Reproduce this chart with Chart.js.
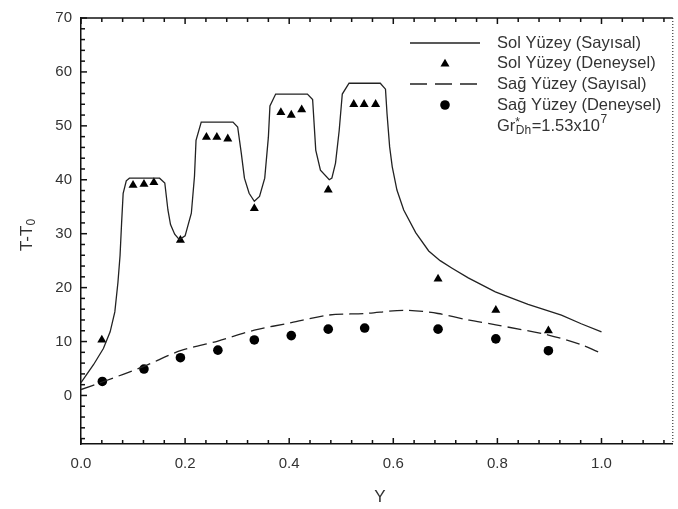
<!DOCTYPE html>
<html>
<head>
<meta charset="utf-8">
<script src="https://cdn.jsdelivr.net/npm/chart.js@4/dist/chart.umd.min.js"></script>
<style>
  html, body { margin: 0; padding: 0; background: #fff; }
  #wrap { width: 678px; height: 509px; }
</style>
</head>
<body>
<div id="wrap"><canvas id="chart" width="678" height="509"></canvas></div>
<script>
// Sol Yüzey (Sayısal) - solid line
const solX = [0, 0.024, 0.043, 0.056, 0.065, 0.071, 0.075, 0.078, 0.081, 0.087, 0.093, 0.151, 0.161, 0.167, 0.172, 0.180, 0.189,
  0.200, 0.212, 0.218, 0.221, 0.231, 0.292, 0.301, 0.308, 0.314, 0.323, 0.333, 0.343, 0.353, 0.360, 0.363, 0.374,
  0.435, 0.445, 0.451, 0.460, 0.477, 0.482, 0.489, 0.496, 0.502, 0.515, 0.575, 0.585, 0.588, 0.593, 0.598, 0.607,
  0.620, 0.643, 0.668, 0.690, 0.713, 0.744, 0.796, 0.859, 0.923, 0.961, 1.0];
const solY = [2.4, 5.7, 8.7, 11.8, 15.5, 21.0, 25.9, 32.0, 37.5, 39.8, 40.3, 40.3, 39.4, 34.4, 31.7, 29.9, 28.9,
  29.6, 33.8, 40.6, 47.3, 50.7, 50.7, 49.8, 44.9, 40.3, 37.5, 36.0, 36.9, 40.3, 47.9, 53.7, 55.9,
  55.9, 54.9, 45.5, 41.8, 40.0, 40.3, 43.1, 49.1, 55.9, 57.9, 57.9, 56.8, 52.2, 46.1, 42.4, 38.1,
  34.4, 30.2, 26.8, 25.0, 23.6, 21.8, 19.2, 16.9, 14.9, 13.3, 11.8];

// Sol Yüzey (Deneysel) - triangles
const solExpX = [0.040, 0.100, 0.121, 0.140, 0.191, 0.241, 0.261, 0.282, 0.333, 0.384, 0.404, 0.424, 0.475,
  0.524, 0.544, 0.566, 0.686, 0.797, 0.898];
const solExpY = [10.3, 39.0, 39.2, 39.5, 28.8, 47.9, 47.9, 47.6, 34.7, 52.5, 52.0, 53.0, 38.1,
  54.0, 54.0, 54.0, 21.6, 15.8, 12.0];

// Sağ Yüzey (Sayısal) - dashed line
const sagX = [0, 0.041, 0.121, 0.191, 0.263, 0.333, 0.404, 0.475, 0.545, 0.623, 0.686, 0.744, 0.797, 0.898, 0.961, 1.0];
const sagY = [1.1, 2.5, 5.4, 8.3, 10.1, 12.1, 13.5, 14.9, 15.2, 15.8, 15.2, 14.0, 13.1, 11.2, 9.4, 7.8];

// Sağ Yüzey (Deneysel) - circles
const sagExpX = [0.041, 0.121, 0.191, 0.263, 0.333, 0.404, 0.475, 0.545, 0.686, 0.797, 0.898];
const sagExpY = [2.6, 4.9, 7.0, 8.4, 10.3, 11.1, 12.3, 12.5, 12.3, 10.5, 8.3];

const legendLabels = ['Sol Yüzey (Sayısal)', 'Sol Yüzey (Deneysel)', 'Sağ Yüzey (Sayısal)', 'Sağ Yüzey (Deneysel)'];

const xMin = 0, xMax = 1.137, xStep = 0.04, xMajor = 0.2;
const yMin = -9, yMax = 70, yStep = 2, yMajor = 10;

const FONT = '"Liberation Sans", Arial, sans-serif';
const INK = '#111';

function pts(xs, ys) {
    return xs.map((x, i) => ({ x: x, y: ys[i] }));
}

function isMajor(v, m) {
    return Math.abs(v / m - Math.round(v / m)) < 1e-6;
}

// ticks inside the frame, frame on top/right, axis titles and legend
const decorPlugin = {
    id: 'decor',
    afterDraw(chart) {
        const ctx = chart.ctx;
        const a = chart.chartArea;
        const xs = chart.scales.x, ys = chart.scales.y;
        ctx.save();
        ctx.strokeStyle = INK;
        ctx.lineWidth = 1.5;

        // top border
        ctx.beginPath();
        ctx.moveTo(a.left, a.top);
        ctx.lineTo(a.right, a.top);
        ctx.stroke();

        // right border (dotted in the original)
        ctx.setLineDash([1, 2]);
        ctx.lineWidth = 1;
        ctx.beginPath();
        ctx.moveTo(a.right, a.top);
        ctx.lineTo(a.right, a.bottom);
        ctx.stroke();
        ctx.setLineDash([]);
        ctx.lineWidth = 1.5;

        // x ticks bottom + top
        xs.ticks.forEach(t => {
            const px = xs.getPixelForValue(t.value);
            const len = isMajor(t.value, xMajor) ? 6 : 4;
            ctx.beginPath();
            ctx.moveTo(px, a.bottom);
            ctx.lineTo(px, a.bottom - len);
            ctx.moveTo(px, a.top);
            ctx.lineTo(px, a.top + len);
            ctx.stroke();
        });
        // y ticks left
        ys.ticks.forEach(t => {
            const py = ys.getPixelForValue(t.value);
            const len = isMajor(t.value, yMajor) ? 6 : 4;
            ctx.beginPath();
            ctx.moveTo(a.left, py);
            ctx.lineTo(a.left + len, py);
            ctx.stroke();
        });

        // axis titles
        ctx.fillStyle = '#333';
        ctx.font = '17px ' + FONT;
        ctx.textAlign = 'center';
        ctx.textBaseline = 'middle';
        ctx.fillText('Y', 380, 497);

        ctx.save();
        ctx.translate(27, 235);
        ctx.rotate(-Math.PI / 2);
        ctx.textAlign = 'left';
        ctx.font = '17px ' + FONT;
        const w1 = ctx.measureText('T-T').width;
        ctx.font = '12px ' + FONT;
        const w2 = ctx.measureText('0').width;
        let sx = -(w1 + w2) / 2;
        ctx.font = '17px ' + FONT;
        ctx.fillText('T-T', sx, 0);
        ctx.font = '12px ' + FONT;
        ctx.fillText('0', sx + w1, 5);
        ctx.restore();

        // legend
        const rowY = [43, 63, 84, 105];
        const lx0 = 410, lx1 = 480, mx = 445, tx = 497;
        ctx.strokeStyle = '#222';
        ctx.fillStyle = '#000';
        ctx.lineWidth = 1.3;
        ctx.beginPath();
        ctx.moveTo(lx0, rowY[0]); ctx.lineTo(lx1, rowY[0]);
        ctx.stroke();
        ctx.setLineDash([17, 8]);
        ctx.beginPath();
        ctx.moveTo(lx0, rowY[2]); ctx.lineTo(lx1, rowY[2]);
        ctx.stroke();
        ctx.setLineDash([]);
        Chart.helpers.drawPoint(ctx, { pointStyle: 'triangle', radius: 5.2, borderWidth: 0 }, mx, rowY[1] + 1);
        Chart.helpers.drawPoint(ctx, { pointStyle: 'circle', radius: 4.8, borderWidth: 0 }, mx, rowY[3]);

        ctx.fillStyle = '#333';
        ctx.textAlign = 'left';
        ctx.textBaseline = 'middle';
        ctx.font = '16.5px ' + FONT;
        legendLabels.forEach((s, i) => ctx.fillText(s, tx, rowY[i]));

        // Gr*_Dh = 1.53x10^7
        let gx = tx;
        const gy = 126;
        ctx.font = '16.5px ' + FONT;
        ctx.fillText('Gr', gx, gy);
        gx += ctx.measureText('Gr').width;
        ctx.font = '12px ' + FONT;
        ctx.fillText('*', gx, gy - 3);
        const starW = ctx.measureText('*').width;
        ctx.fillText('Dh', gx + 0.5, gy + 5);
        gx += Math.max(starW, ctx.measureText('Dh').width) + 1;
        ctx.font = '16.5px ' + FONT;
        ctx.fillText('=1.53x10', gx, gy);
        gx += ctx.measureText('=1.53x10').width;
        ctx.font = '12px ' + FONT;
        ctx.fillText('7', gx + 0.5, gy - 6);

        ctx.restore();
    }
};

new Chart(document.getElementById('chart').getContext('2d'), {
    type: 'scatter',
    data: {
        datasets: [
            {
                label: legendLabels[0],
                data: pts(solX, solY),
                showLine: true,
                borderColor: '#222',
                borderWidth: 1.3,
                pointRadius: 0,
                tension: 0
            },
            {
                label: legendLabels[1],
                data: pts(solExpX, solExpY),
                pointStyle: 'triangle',
                pointRadius: 5.2,
                backgroundColor: '#000',
                borderColor: '#000',
                borderWidth: 0
            },
            {
                label: legendLabels[2],
                data: pts(sagX, sagY),
                showLine: true,
                borderColor: '#222',
                borderWidth: 1.3,
                borderDash: [14, 6],
                pointRadius: 0,
                tension: 0.3
            },
            {
                label: legendLabels[3],
                data: pts(sagExpX, sagExpY),
                pointStyle: 'circle',
                pointRadius: 4.8,
                backgroundColor: '#000',
                borderColor: '#000',
                borderWidth: 0
            }
        ]
    },
    options: {
        responsive: false,
        animation: false,
        layout: { padding: { left: 0, right: 3, top: 13, bottom: 0 } },
        plugins: {
            legend: { display: false },
            tooltip: { enabled: false }
        },
        scales: {
            x: {
                type: 'linear',
                min: xMin,
                max: xMax,
                grid: { display: false, drawTicks: false },
                border: { display: true, color: INK, width: 1.5 },
                ticks: {
                    stepSize: xStep,
                    includeBounds: false,
                    autoSkip: false,
                    maxRotation: 0,
                    padding: 11,
                    color: '#333',
                    font: { family: FONT, size: 15 },
                    callback: v => isMajor(v, xMajor) ? v.toFixed(1) : ''
                },
                afterFit(scale) { scale.height = 65; }
            },
            y: {
                type: 'linear',
                min: yMin,
                max: yMax,
                grid: { display: false, drawTicks: false },
                border: { display: true, color: INK, width: 1.5 },
                ticks: {
                    stepSize: yStep,
                    includeBounds: false,
                    autoSkip: false,
                    padding: 9,
                    color: '#333',
                    font: { family: FONT, size: 15 },
                    callback: v => isMajor(v, yMajor) ? String(v) : ''
                },
                afterFit(scale) { scale.width = 81; }
            }
        }
    },
    plugins: [decorPlugin]
});
</script>
</body>
</html>
